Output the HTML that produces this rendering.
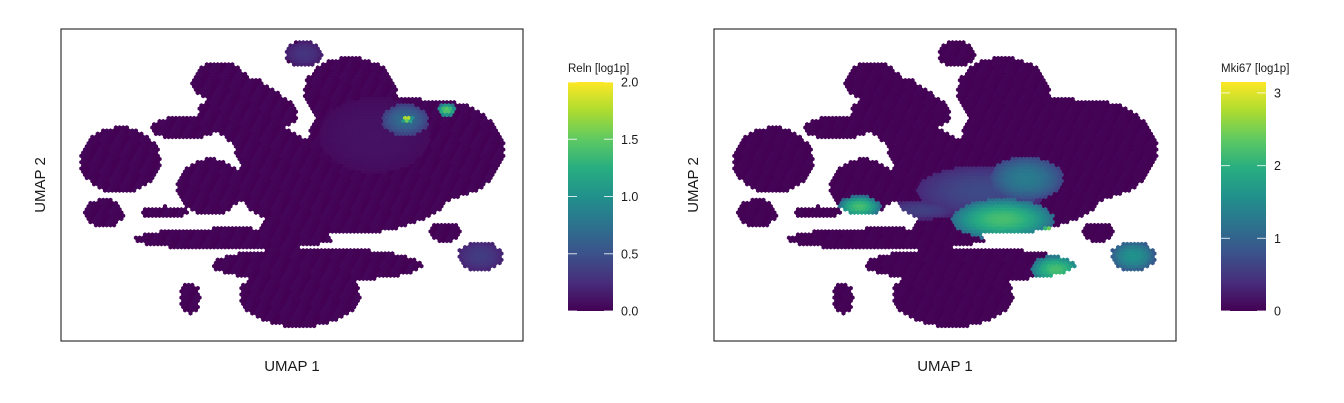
<!DOCTYPE html>
<html><head><meta charset="utf-8">
<style>
html,body{margin:0;padding:0;background:#fff;}
svg{display:block;font-family:"Liberation Sans",Arial,sans-serif;}
</style></head>
<body>
<svg id="fig" width="1344" height="403" viewBox="0 0 1344 403">
<defs>
<linearGradient id="vir" x1="0" y1="1" x2="0" y2="0">
<stop offset="0" stop-color="#440154"/><stop offset="0.125" stop-color="#472d7b"/>
<stop offset="0.25" stop-color="#3b528b"/><stop offset="0.375" stop-color="#2c728e"/>
<stop offset="0.5" stop-color="#21918c"/><stop offset="0.625" stop-color="#28ae80"/>
<stop offset="0.75" stop-color="#5ec962"/><stop offset="0.875" stop-color="#addc30"/>
<stop offset="1" stop-color="#fde725"/>
</linearGradient>
</defs>
</svg>
<script>
// shared embedding blobs (UMAP units 0..100)
const blobCx = [52.6,34.4,40.5,62.6,81.4,61.5,12.8,9.3,26.4,32.3,37.2,55.4,51.7,27.9,83.1,90.7,50.6,22.5,45.2,66.9,75.0];
const blobCy = [92.0,83.0,73.1,79.8,61.2,50.3,58.0,41.0,68.3,49.4,32.7,24.4,14.7,13.8,34.9,27.2,35.6,41.3,61.2,67.6,72.0];
const blobRx = [4.1,6.1,10.0,10.0,14.5,23.8,8.7,4.3,6.9,7.1,21.6,22.7,13.0,2.2,3.5,4.8,7.6,5.4,7.6,13.0,8.0];
const blobRy = [4.2,6.4,10.6,11.2,16.0,16.0,10.6,4.5,3.8,9.0,3.5,5.4,10.3,5.1,3.2,4.8,4.8,1.9,8.0,8.0,6.0];
const blobType = ["e","e","d","e","e","e","e","e","e","e","e","e","e","e","e","e","e","e","e","e","e"];

// Reln hotspots
const relnX = [74.5,74.9,83.5,52.6,90.7,68.0];
const relnY = [70.8,71.2,74.0,92.0,27.2,66.0];
const relnR = [5,1.2,2,4,5,12];
const relnV = [0.7,1.9,1.5,0.3,0.35,0.1];
// Mki67 hotspots
const mkiX = [62.5,72.7,67.5,31.5,74.0,78.5,90.7,58,45];
const mkiY = [39.0,34.9,52.0,43.0,23.0,22.0,27.2,48,42];
const mkiRx = [11,2,8,4.5,5.5,1.8,5,14,8];
const mkiRy = [6.5,2,7,3.5,4.5,2,5,8,3];
const mkiV = [2.2,3.0,1.3,2.2,2.2,3.0,1.6,0.7,0.6];

const relnTicks = [0,0.5,1,1.5,2];
const relnTickLabels = ["0.0","0.5","1.0","1.5","2.0"];
const mkiTicks = [0,1,2,3];
const mkiTickLabels = ["0","1","2","3"];

const NS="http://www.w3.org/2000/svg";
const svg=document.getElementById('fig');
const stops=["#440154","#472d7b","#3b528b","#2c728e","#21918c","#28ae80","#5ec962","#addc30","#fde725"];
function hx(c){return [parseInt(c.substr(1,2),16),parseInt(c.substr(3,2),16),parseInt(c.substr(5,2),16)];}
function viridis(t){t=Math.max(0,Math.min(1,t));const p=t*8,i=Math.min(7,Math.floor(p)),f=p-i;
 const a=hx(stops[i]),b=hx(stops[i+1]);return "rgb("+a.map((v,k)=>Math.round(v+(b[k]-v)*f)).join(",")+")";}
function mk(tag,attrs,parent){const e=document.createElementNS(NS,tag);for(const k in attrs)e.setAttribute(k,attrs[k]);(parent||svg).appendChild(e);return e;}

function inside(x,y){
 for(let i=0;i<blobCx.length;i++){
  const dx=(x-blobCx[i])/blobRx[i],dy=(y-blobCy[i])/blobRy[i];
  if(blobType[i]==="d"){ if(Math.abs(dx)*0.8+Math.abs(dy)*0.8<=1 && dx*dx+dy*dy<=1.15) return true; }
  else if(dx*dx+dy*dy<=1) return true;
 }
 return false;
}

function panel(ox,title,hxs,hys,hrx,hry,hv,vmax,ticks,tickLabels,pname){
 const L=ox+61,R=ox+523,T=29,B=341;
 const ix=p=>(p-L)/(R-L)*100, iy=p=>(B-p)/(B-T)*100;
 const g=mk('g',{});
 
 
 const r=2.1,w=r*Math.sqrt(3),rh=r*1.5;
 const buckets={};
 let row=0;
 for(let py=T+4;py<B-2;py+=rh,row++){
  for(let px=L+4+(row%2?w/2:0);px<R-2;px+=w){
   const x=ix(px),y=iy(py);
   if(!inside(x,y))continue;
   let v=0.03*((row*7+Math.round(px))%5)/4;
   for(let k=0;k<hxs.length;k++){
    const dx=(x-hxs[k])/hrx[k],dy=(y-hys[k])/hry[k],d=dx*dx+dy*dy;
    if(d<1)v=Math.max(v,hv[k]*(1-0.5*d));
   }
   const c=viridis(v/vmax);
   let d="M"+px.toFixed(1)+","+(py-r).toFixed(1);
   for(let a=1;a<6;a++){const an=Math.PI/3*a-Math.PI/2;d+="L"+(px+r*Math.cos(an)).toFixed(1)+","+(py+r*Math.sin(an)).toFixed(1);}
   (buckets[c]=buckets[c]||[]).push(d+"Z");
  }
 }
 for(const c in buckets){const p=mk('path',{d:buckets[c].join(''),fill:c,stroke:c,'stroke-width':0.5},g);
  }
 const box=mk('rect',{x:L,y:T,width:R-L,height:B-T,fill:'none',stroke:'#333','stroke-width':1.2});
 
 const xt=mk('text',{x:(L+R)/2,y:371,'text-anchor':'middle','font-size':15,fill:'#1a1a1a'});xt.textContent='UMAP 1';
 
 const yt=mk('text',{x:0,y:0,'text-anchor':'middle','font-size':15,fill:'#1a1a1a',transform:'translate('+(ox+45)+',185) rotate(-90)'});yt.textContent='UMAP 2';
 
 const cbL=ox+568,cbW=45,cbT=82,cbB=311;
 const cy=v=>cbB-v/vmax*(cbB-cbT);
 const cb=mk('rect',{x:cbL,y:cbT,width:cbW,height:cbB-cbT,fill:'url(#vir)'});
 
 const ttl=mk('text',{x:cbL,y:72,'font-size':11.5,fill:'#1a1a1a'});ttl.textContent=title;
 
 ticks.forEach((t,i)=>{
  const y=cy(t);
  mk('line',{x1:cbL,x2:cbL+9,y1:y,y2:y,stroke:'#fff','stroke-width':1,'stroke-opacity':0.8});
  mk('line',{x1:cbL+cbW-9,x2:cbL+cbW,y1:y,y2:y,stroke:'#fff','stroke-width':1,'stroke-opacity':0.8});
  const tl=mk('text',{x:cbL+cbW+8,y:y+4.5,'font-size':12.5,fill:'#1a1a1a'});tl.textContent=tickLabels[i];
  
 });
}
panel(0,'Reln [log1p]',relnX,relnY,relnR,relnR,relnV,2.0,relnTicks,relnTickLabels,'reln-panel');
panel(653,'Mki67 [log1p]',mkiX,mkiY,mkiRx,mkiRy,mkiV,3.15,mkiTicks,mkiTickLabels,'mki67-panel');
</script>
</body></html>
